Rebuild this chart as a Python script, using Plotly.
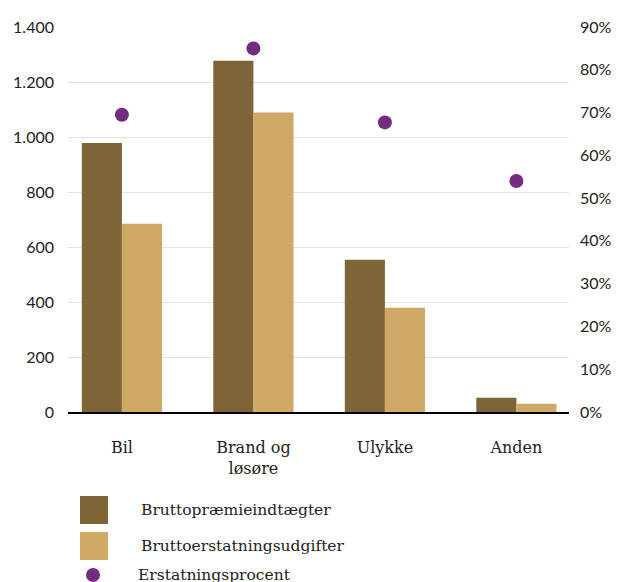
import plotly.graph_objects as go

categories = ["Bil", "Brand og<br>løsøre", "Ulykke", "Anden"]
praemie = [978, 1277, 554, 52]
erstatning = [685, 1089, 379, 30]
procent = [0.695, 0.85, 0.677, 0.54]
series_names = ["Bruttopræmieindtægter", "Bruttoerstatningsudgifter", "Erstatningsprocent"]
left_ticks = [0, 200, 400, 600, 800, 1000, 1200, 1400]
left_ticktext = ["0", "200", "400", "600", "800", "1.000", "1.200", "1.400"]

DARK = "#7f6437"
LIGHT = "#cfa866"
PURPLE = "#742c80"
SERIF = "DejaVu Serif"
SANS = "Lato"

fig = go.Figure()
fig.add_trace(go.Bar(x=categories, y=praemie, name=series_names[0], marker_color=DARK,
                     marker_line_width=0, yaxis="y"))
fig.add_trace(go.Bar(x=categories, y=erstatning, name=series_names[1], marker_color=LIGHT,
                     marker_line_width=0, yaxis="y"))
fig.add_trace(go.Scatter(x=categories, y=procent, name=series_names[2], mode="markers",
                         marker=dict(color=PURPLE, size=14), yaxis="y2"))

# page body has an 8px margin; compensate so the figure lands on the window pixels
OFF = 8
W, H = 619 - OFF, 582 - OFF
PL, PR, PT, PB = 68, 569, 27, 412  # plot area in window pixels
L = PL - OFF
T = PT - OFF
R = W - (PR - OFF)
B = H - (PB - OFF)

fig.update_layout(
    width=W, height=H, autosize=False,
    margin=dict(l=L, r=R, t=T, b=B, pad=0, autoexpand=False),
    plot_bgcolor="white", paper_bgcolor="white",
    showlegend=False,
    barmode="group", bargap=0.39, bargroupgap=0,
    xaxis=dict(range=[-0.41, 3.40], showline=True, linecolor="black", linewidth=2,
               ticks="", showgrid=False, automargin=False,
               tickfont=dict(family=SERIF, size=16, color="#222"),
               ticklabelstandoff=20),
    yaxis=dict(range=[0, 1400], tickvals=left_ticks, ticktext=left_ticktext,
               showgrid=True, gridcolor="#e3e3e3", gridwidth=1, zeroline=False,
               ticks="", automargin=False,
               tickfont=dict(family=SANS, size=16, color="#222"),
               ticklabelstandoff=13),
    yaxis2=dict(range=[0, 0.9], overlaying="y", side="right", dtick=0.1,
                tickformat=".0%", showgrid=False, zeroline=False, ticks="",
                automargin=False,
                tickfont=dict(family=SANS, size=16, color="#222"),
                ticklabelstandoff=10),
)

# custom legend, positions given in window pixels, converted to paper coords
def px_to_paper(x, y):
    return (x - PL) / (PR - PL), (PB - y) / (PB - PT)

shapes = []
legend_items = [(DARK, 496), (LIGHT, 532)]
for color, ytop in legend_items:
    x0, y0 = px_to_paper(80, ytop)
    x1, y1 = px_to_paper(108, ytop + 28)
    shapes.append(dict(type="rect", xref="paper", yref="paper", x0=x0, x1=x1, y0=y1, y1=y0,
                       fillcolor=color, line_width=0))
cx, cy = 93, 575
x0, y0 = px_to_paper(cx - 7, cy - 7)
x1, y1 = px_to_paper(cx + 7, cy + 7)
shapes.append(dict(type="circle", xref="paper", yref="paper", x0=x0, x1=x1, y0=y1, y1=y0,
                   fillcolor=PURPLE, line_width=0))
fig.update_layout(shapes=shapes)

texts = [(series_names[0], 139, 510), (series_names[1], 139, 546), (series_names[2], 136, 575)]
for t, x, y in texts:
    px, py = px_to_paper(x, y)
    fig.add_annotation(text=t, x=px, y=py, xref="paper", yref="paper", xanchor="left",
                       yanchor="middle", showarrow=False,
                       font=dict(family=SERIF, size=15.5, color="#222"))

fig.write_html("out.html")
